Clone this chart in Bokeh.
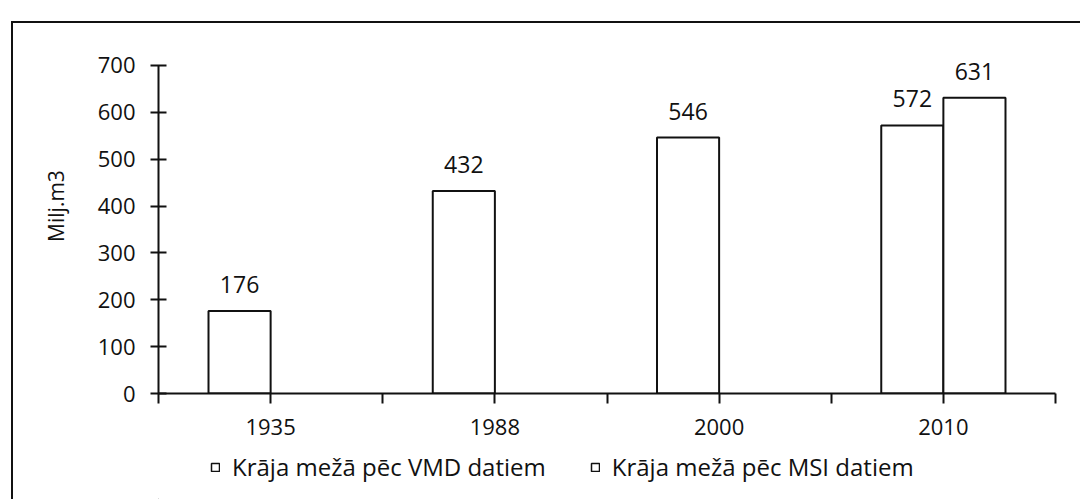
from bokeh.plotting import figure
from bokeh.layouts import column
from bokeh.models import (Range1d, FixedTicker, Legend, LegendItem, LabelSet,
                          ColumnDataSource, CustomJSTickFormatter)
from bokeh.core.properties import value
from bokeh.embed import file_html
from bokeh.resources import INLINE

years = ["1935", "1988", "2000", "2010"]
vmd = [176, 432, 546, 572]
msi = [None, None, None, 631]
y_ticks = [0, 100, 200, 300, 400, 500, 600, 700]
series_names = ["Krāja mežā pēc VMD datiem", "Krāja mežā pēc MSI datiem"]

FONT = "Open Sans"
INK = "#111111"
bw = 0.277

idx = list(range(len(years)))
src_vmd = ColumnDataSource(dict(x=[i - bw / 2 for i in idx], top=vmd,
                                lab=[str(v) for v in vmd]))
mi = [i for i in idx if msi[i] is not None]
src_msi = ColumnDataSource(dict(x=[i + bw / 2 for i in mi], top=[msi[i] for i in mi],
                                lab=[str(msi[i]) for i in mi]))

H_MAIN = 448
p = figure(width=1080, height=H_MAIN, x_range=Range1d(-0.5, len(years) - 0.5),
           y_range=Range1d(0, 800), output_backend="svg", toolbar_location=None,
           min_border_left=158, min_border_right=25, min_border_top=18,
           min_border_bottom=H_MAIN - 393)
p.background_fill_color = None
p.border_fill_color = None
p.outline_line_color = None
p.xgrid.visible = False
p.ygrid.visible = False

bar_style = dict(fill_color="white", line_color=INK, line_width=2)
r1 = p.vbar(x="x", top="top", bottom=0, width=bw, source=src_vmd, **bar_style)
r2 = p.vbar(x="x", top="top", bottom=0, width=bw, source=src_msi, **bar_style)

for s in (src_vmd, src_msi):
    p.add_layout(LabelSet(x="x", y="top", text="lab", source=s, y_offset=18,
                          text_align="center", text_baseline="bottom",
                          text_font=value(FONT), text_font_size=value("23px"),
                          text_color=INK))

# y axis
ya = p.yaxis[0]
ya.ticker = FixedTicker(ticks=y_ticks)
ya.bounds = (0, 700)
ya.major_tick_in = 8
ya.major_tick_out = 8
ya.minor_tick_line_color = None
ya.axis_line_width = 2
ya.axis_line_color = INK
ya.major_tick_line_width = 2
ya.major_tick_line_color = INK
ya.major_label_standoff = 15
ya.major_label_text_font = FONT
ya.major_label_text_font_size = "22px"
ya.major_label_text_color = INK
ya.axis_label = "Milj.m3"
ya.axis_label_text_font = FONT
ya.axis_label_text_font_size = "21px"
ya.axis_label_text_font_style = "normal"
ya.axis_label_text_color = INK
ya.axis_label_standoff = 25

# x axis
xa = p.xaxis[0]
xa.ticker = FixedTicker(ticks=[i / 2 - 0.5 for i in range(2 * len(years) + 1)])
xa.formatter = CustomJSTickFormatter(args=dict(years=years), code="""
    const i = Math.round(tick);
    return (Math.abs(tick - i) < 1e-6 && i >= 0 && i < years.length) ? years[i] : '';
""")
xa.major_tick_in = 0
xa.major_tick_out = 10
xa.minor_tick_line_color = None
xa.axis_line_width = 2
xa.axis_line_color = INK
xa.major_tick_line_width = 2
xa.major_tick_line_color = INK
xa.major_label_standoff = 15
xa.major_label_text_font = FONT
xa.major_label_text_font_size = "22px"
xa.major_label_text_color = INK

# legend strip below the chart (its frame is aligned with the chart frame)
H_LEG = 499 - H_MAIN
lf = figure(width=1080, height=H_LEG, x_range=Range1d(0, 1), y_range=Range1d(0, 1),
            output_backend="svg", toolbar_location=None,
            min_border_left=0, min_border_right=0, min_border_top=0, min_border_bottom=0,
            x_axis_type=None, y_axis_type=None)
lf.background_fill_color = None
lf.border_fill_color = None
lf.outline_line_color = None
lf.xgrid.visible = False
lf.ygrid.visible = False
# legend-only renderers: one point placed far outside the visible range
e = ColumnDataSource(dict(x=[-100.0], top=[-100.0]))
l1 = lf.vbar(x="x", top="top", bottom=-101.0, width=0.1, source=e,
             fill_color="white", line_color=INK, line_width=1.5)
l2 = lf.vbar(x="x", top="top", bottom=-101.0, width=0.1, source=e,
             fill_color="white", line_color=INK, line_width=1.5)

legend = Legend(items=[LegendItem(label=series_names[0], renderers=[l1]),
                       LegendItem(label=series_names[1], renderers=[l2])],
                location=(52, 16), orientation="horizontal")
legend.glyph_width = 10
legend.glyph_height = 10
legend.label_standoff = 12
legend.spacing = 44
legend.padding = 0
legend.margin = 0
legend.border_line_color = None
legend.background_fill_alpha = 0
legend.label_text_font = FONT
legend.label_text_font_size = "24px"
legend.label_text_color = INK
lf.add_layout(legend, "center")

page = column(p, lf, spacing=0)
page.styles = {"background": "linear-gradient(#111,#111) 11px 21px / 2px 100% no-repeat, "
                             "linear-gradient(#111,#111) 11px 21px / 100% 2px no-repeat"}

open("out.html", "w").write(file_html(page, INLINE))
